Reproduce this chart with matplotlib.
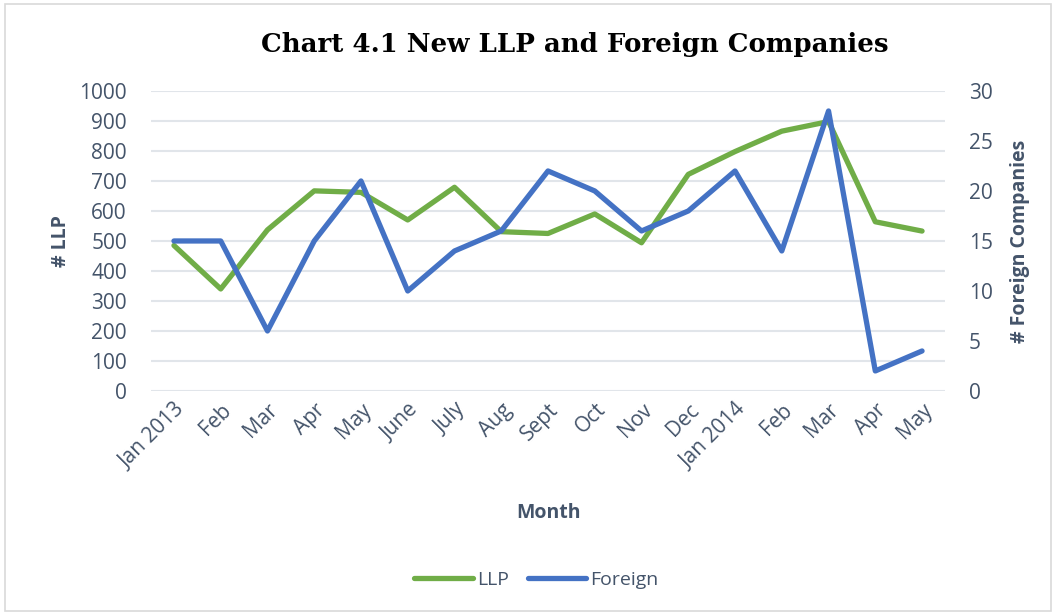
import numpy as np
import matplotlib
matplotlib.use("Agg")
import matplotlib.pyplot as plt
from matplotlib.patches import Rectangle

# months along the x axis
months = ["Jan 2013", "Feb", "Mar", "Apr", "May", "June", "July", "Aug", "Sept",
          "Oct", "Nov", "Dec", "Jan 2014", "Feb", "Mar", "Apr", "May"]

# new LLPs (left axis)
llp = [485, 340, 537, 667, 662, 570, 679, 531, 525,
       590, 494, 722, 798, 866, 898, 564, 533]

# new foreign companies (right axis)
foreign = [15, 15, 6, 15, 21, 10, 14, 16, 22,
           20, 16, 18, 22, 14, 28, 2, 4]

txt_col = "#44546A"
grid_col = "#E1E5EA"
plt.rcParams["font.family"] = ["Open Sans", "DejaVu Sans"]

fig = plt.figure(figsize=(10.56, 6.13), dpi=100)
fig.patches.append(Rectangle((0.005, 0.003), 0.99, 0.99, transform=fig.transFigure,
                             fill=False, edgecolor="#D9D9D9", linewidth=1.2))

ax = fig.add_axes([0.1426, 0.3622, 0.7527, 0.4894])
ax2 = ax.twinx()

x = np.arange(len(months))
ln1, = ax.plot(x, llp, color="#70AD47", lw=3.8, solid_capstyle="round",
               solid_joinstyle="round", label="LLP", zorder=3)
ln2, = ax2.plot(x, foreign, color="#4472C4", lw=3.8, solid_capstyle="round",
                solid_joinstyle="round", label="Foreign", zorder=3)

ax.set_xlim(-0.5, len(months) - 0.5)
ax.set_ylim(0, 1000)
ax.set_yticks(np.arange(0, 1001, 100))
ax2.set_ylim(0, 30)
ax2.set_yticks(np.arange(0, 31, 5))
ax.yaxis.grid(True, color=grid_col, lw=1.5)
ax.set_axisbelow(True)

for a in (ax, ax2):
    for s in a.spines.values():
        s.set_visible(False)
    a.tick_params(length=0, labelsize=15, labelcolor=txt_col)
ax.tick_params(axis="y", pad=17)
ax2.tick_params(axis="y", pad=17)

ax.set_xticks(x)
ax.set_xticklabels(months, rotation=45, ha="right", rotation_mode="anchor")
ax.tick_params(axis="x", pad=6)

ax.set_xlabel("Month", fontsize=14, fontweight="bold", color=txt_col, labelpad=22)
ax.set_ylabel("# LLP", fontsize=14, fontweight="bold", color=txt_col, labelpad=6)
ax2.set_ylabel("# Foreign Companies", fontsize=14, fontweight="bold", color=txt_col,
               labelpad=12)

fig.text(0.5445, 0.928, "Chart 4.1 New LLP and Foreign Companies",
         family="DejaVu Serif", fontweight="bold", fontsize=18.7, ha="center",
         va="center", color="black")

fig.legend(handles=[ln1, ln2], loc="center", bbox_to_anchor=(0.508, 0.054),
           ncol=2, frameon=False, fontsize=14, labelcolor=txt_col,
           handlelength=3.0, columnspacing=1.0, handletextpad=0.2)

fig.savefig("out.png", dpi=100)
